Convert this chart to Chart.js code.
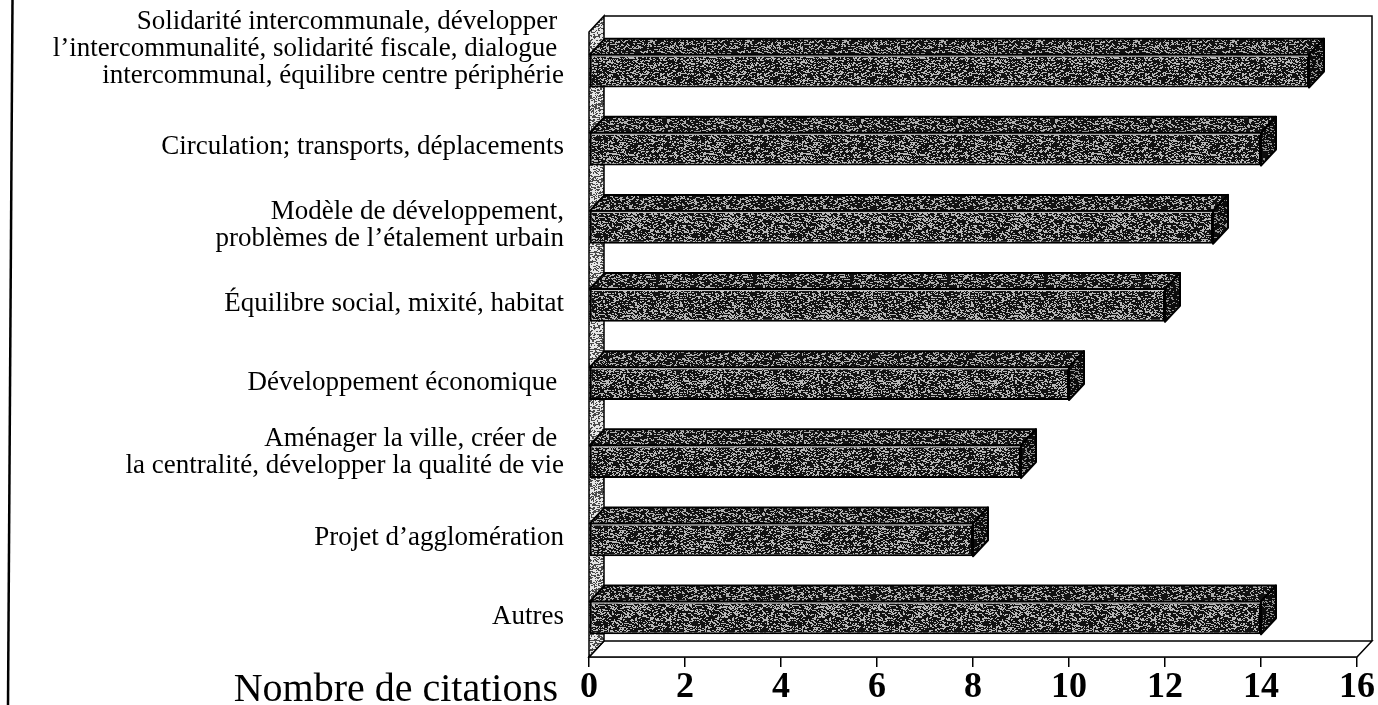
<!DOCTYPE html>
<html><head><meta charset="utf-8">
<script src="https://cdn.jsdelivr.net/npm/chart.js@4"></script>
<style>html,body{margin:0;padding:0;background:#fff;overflow:hidden}#wrap{width:1378px;height:705px;position:relative}</style>
</head><body><div id="wrap"><canvas id="c" width="1378" height="705"></canvas></div>
<script>
const categories = [
  ["Solidarité intercommunale, développer ", "l’intercommunalité, solidarité fiscale, dialogue ", "intercommunal, équilibre centre périphérie"],
  ["Circulation; transports, déplacements"],
  ["Modèle de développement,", "problèmes de l’étalement urbain"],
  ["Équilibre social, mixité, habitat"],
  ["Développement économique "],
  ["Aménager la ville, créer de ", "la centralité, développer la qualité de vie"],
  ["Projet d’agglomération"],
  ["Autres"]
];
const citations = [15, 14, 13, 12, 10, 9, 8, 14];
const xMin = 0, xMax = 16, xStep = 2;
const axisTitle = "Nombre de citations";

const SERIF = '"Liberation Serif", "Times New Roman", serif';
const DX = 15, DY = -16;
const labelShift = [-22, -2, -2, -2, -1, -9, -2, -1];

function makePattern(base, speck, density, seed) {
  const s = 97;
  const c = document.createElement('canvas'); c.width = s; c.height = s;
  const g = c.getContext('2d');
  g.fillStyle = base; g.fillRect(0, 0, s, s);
  g.fillStyle = speck;
  for (let y = 0; y < s; y++) for (let x = 0; x < s; x++) {
    let h = Math.imul(x + 1, 73856093) ^ Math.imul(y + 7, 19349663) ^ Math.imul(seed, 83492791);
    h = Math.imul(h ^ (h >>> 13), 1274126177);
    h = (h ^ (h >>> 16)) >>> 0;
    if ((h % 1000) / 1000 < density) {
      const w = (h >>> 12) & 1 ? 2 : 1;
      g.fillRect(x, y, w, 1);
    }
  }
  return g.createPattern(c, 'repeat');
}
const barPattern = makePattern('#121212', '#b8b8b8', 0.27, 3);
const topPattern = makePattern('#121212', '#b0b0b0', 0.24, 11);
const endPattern = makePattern('#0c0c0c', '#8f8f8f', 0.18, 19);
const wallPattern = makePattern('#e6e6e6', '#4a4a4a', 0.30, 29);

const box3d = {
  id: 'box3d',
  beforeDatasetsDraw(chart) {
    const {ctx, chartArea: a} = chart;
    ctx.save();
    ctx.lineWidth = 1.5; ctx.strokeStyle = '#000';
    ctx.beginPath();
    ctx.moveTo(a.left + DX, a.top + DY); ctx.lineTo(a.right + DX, a.top + DY); ctx.lineTo(a.right + DX, a.bottom + DY);
    ctx.stroke();
    ctx.beginPath();
    ctx.moveTo(a.left, a.bottom); ctx.lineTo(a.left + DX, a.bottom + DY); ctx.lineTo(a.right + DX, a.bottom + DY); ctx.lineTo(a.right, a.bottom);
    ctx.closePath(); ctx.fillStyle = '#fff'; ctx.fill(); ctx.stroke();
    ctx.beginPath();
    ctx.moveTo(a.left, a.top); ctx.lineTo(a.left + DX, a.top + DY); ctx.lineTo(a.left + DX, a.bottom + DY); ctx.lineTo(a.left, a.bottom);
    ctx.closePath(); ctx.fillStyle = wallPattern; ctx.fill(); ctx.stroke();
    ctx.restore();
  },
  afterDatasetsDraw(chart) {
    const ctx = chart.ctx;
    const meta = chart.getDatasetMeta(0);
    ctx.save();
    ctx.lineWidth = 2; ctx.strokeStyle = '#000'; ctx.lineJoin = 'round';
    meta.data.forEach(bar => {
      const p = bar.getProps(['x', 'y', 'base', 'height'], true);
      const t = p.y - p.height / 2, b = p.y + p.height / 2;
      ctx.beginPath();
      ctx.moveTo(p.base, t); ctx.lineTo(p.base + DX, t + DY); ctx.lineTo(p.x + DX, t + DY); ctx.lineTo(p.x, t);
      ctx.closePath(); ctx.fillStyle = topPattern; ctx.fill(); ctx.stroke();
      ctx.beginPath();
      ctx.moveTo(p.x, t); ctx.lineTo(p.x + DX, t + DY); ctx.lineTo(p.x + DX, b + DY); ctx.lineTo(p.x, b);
      ctx.closePath(); ctx.fillStyle = endPattern; ctx.fill(); ctx.stroke();
      ctx.beginPath(); ctx.strokeStyle = '#cfcfcf'; ctx.lineWidth = 1;
      ctx.moveTo(p.base + 2, t + 1.5); ctx.lineTo(p.x - 1, t + 1.5); ctx.stroke();
      ctx.strokeStyle = '#000'; ctx.lineWidth = 2;
    });
    ctx.restore();
  },
  afterDraw(chart) {
    const ctx = chart.ctx;
    const ys = chart.scales.y;
    ctx.save();
    ctx.fillStyle = '#000';
    ctx.font = '27px ' + SERIF;
    ctx.textAlign = 'right'; ctx.textBaseline = 'middle';
    categories.forEach((lines, i) => {
      const yc = ys.getPixelForValue(i) + labelShift[i];
      const n = lines.length;
      lines.forEach((txt, j) => ctx.fillText(txt, 564, yc + (j - (n - 1) / 2) * 27));
    });
    ctx.font = '40px ' + SERIF;
    ctx.fillText(axisTitle, 558, 690);
    ctx.strokeStyle = '#000'; ctx.lineWidth = 2.5;
    ctx.beginPath(); ctx.moveTo(12.5, 0); ctx.lineTo(8, 705); ctx.stroke();
    ctx.restore();
  }
};

new Chart(document.getElementById('c'), {
  type: 'bar',
  data: {
    labels: categories,
    datasets: [{
      data: citations,
      backgroundColor: barPattern,
      borderColor: '#000',
      borderWidth: 2,
      borderSkipped: false,
      barPercentage: 0.42,
      categoryPercentage: 1
    }]
  },
  options: {
    indexAxis: 'y',
    responsive: false,
    animation: false,
    events: [],
    layout: {padding: {left: 589, top: 32, right: 18, bottom: 0}},
    plugins: {legend: {display: false}, tooltip: {enabled: false}},
    scales: {
      x: {
        min: xMin, max: xMax,
        ticks: {stepSize: xStep, color: '#000', padding: 3, maxRotation: 0,
                font: {family: SERIF, size: 36, weight: 'bold', lineHeight: 1}},
        grid: {drawOnChartArea: false, drawTicks: true, tickLength: 10, color: '#000', lineWidth: 1.5},
        border: {display: true, color: '#000', width: 1.5},
        afterFit(s) { s.height = 48; }
      },
      y: {display: false}
    }
  },
  plugins: [box3d]
});
</script>
</body></html>
